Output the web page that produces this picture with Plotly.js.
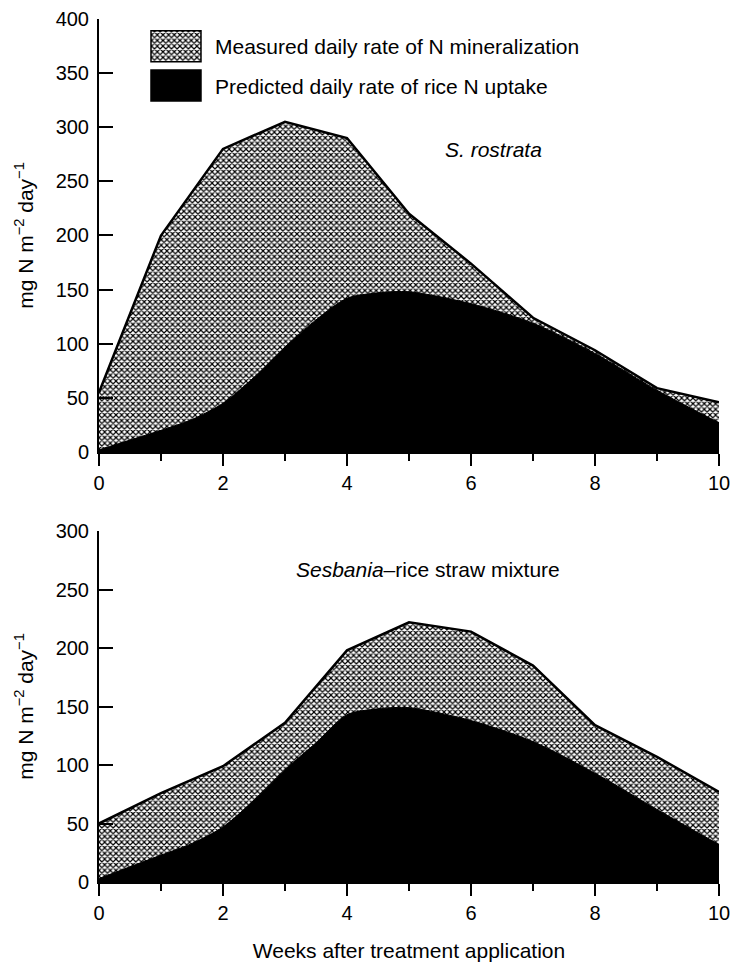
<!DOCTYPE html>
<html><head><meta charset="utf-8">
<script src="https://cdn.plot.ly/plotly-3.0.1.min.js"></script>
<style>html,body{margin:0;padding:0;background:#fff}</style>
</head><body>
<div id="chart" style="width:731px;height:965px"></div>
<script>
// Weeks after treatment application
const weeks = [0, 1, 2, 3, 4, 5, 6, 7, 8, 9, 10];
const predWeeks = [0, 0.5, 1, 1.5, 2, 2.5, 3, 3.5, 4, 4.5, 5, 6, 7, 8, 9, 10];
// Panel 1: S. rostrata
const rostrataMeasured = [55, 200, 280, 305, 290, 220, 174, 124, 94, 59, 46];
const rostrataPredicted = [2, 11, 20, 30, 45, 69, 97, 122, 142, 147, 148, 137, 119, 91, 57, 27];
// Panel 2: Sesbania-rice straw mixture
const mixtureMeasured = [50, 76, 99, 136, 198, 222, 214, 185, 134, 107, 77];
const mixturePredicted = [3, 13, 23, 33, 47, 70, 96, 119, 143, 148, 149, 138, 120, 93, 62, 32];

const measuredName = 'Measured daily rate of N mineralization';
const predictedName = 'Predicted daily rate of rice N uptake';
const yTitle = 'mg N m<sup>\u22122</sup> day<sup>\u22121</sup>';
const xTitle = 'Weeks after treatment application';
const panel1Label = '<i>S. rostrata</i>';
const panel2Label = '<i>Sesbania</i>\u2013rice straw mixture';

const FONT = 'Liberation Sans, Arial, Helvetica, sans-serif';
const pattern = {shape: 'x', size: 4, solidity: 0.5, fgcolor: '#000', bgcolor: '#fff', fillmode: 'replace'};

const traces = [
  {x: weeks, y: rostrataMeasured, xaxis: 'x', yaxis: 'y', type: 'scatter', mode: 'lines',
   fill: 'tozeroy', fillpattern: pattern, fillcolor: '#fff', line: {color: '#000', width: 2.5},
   name: measuredName, legendgroup: 'm', showlegend: true, hoverinfo: 'skip'},
  {x: predWeeks, y: rostrataPredicted, xaxis: 'x', yaxis: 'y', type: 'scatter', mode: 'lines',
   fill: 'tozeroy', fillcolor: '#000', line: {color: '#000', width: 1, shape: 'spline', smoothing: 0.8},
   name: predictedName, legendgroup: 'p', showlegend: true, hoverinfo: 'skip'},
  {x: weeks, y: mixtureMeasured, xaxis: 'x2', yaxis: 'y2', type: 'scatter', mode: 'lines',
   fill: 'tozeroy', fillpattern: pattern, fillcolor: '#fff', line: {color: '#000', width: 2.5},
   name: measuredName, legendgroup: 'm', showlegend: false, hoverinfo: 'skip'},
  {x: predWeeks, y: mixturePredicted, xaxis: 'x2', yaxis: 'y2', type: 'scatter', mode: 'lines',
   fill: 'tozeroy', fillcolor: '#000', line: {color: '#000', width: 1, shape: 'spline', smoothing: 0.8},
   name: predictedName, legendgroup: 'p', showlegend: false, hoverinfo: 'skip'}
];

function xAxis(extra) {
  return Object.assign({
    range: [0, 10], dtick: 2, tick0: 0, ticks: 'outside', ticklen: 12, tickwidth: 2, tickcolor: '#000',
    minor: {dtick: 1, tick0: 0, ticks: 'outside', ticklen: 7, tickwidth: 2, tickcolor: '#000'},
    showline: true, linecolor: '#000', linewidth: 2, showgrid: false, zeroline: false,
    tickfont: {family: FONT, size: 20, color: '#000'}, fixedrange: true
  }, extra);
}
function yAxis(extra) {
  return Object.assign({
    dtick: 50, tick0: 0, ticks: 'inside', ticklen: 14, tickwidth: 2, tickcolor: '#000',
    showline: true, linecolor: '#000', linewidth: 2, showgrid: false, zeroline: false,
    tickfont: {family: FONT, size: 20, color: '#000'}, ticklabelstandoff: 4,
    title: {text: yTitle, font: {family: FONT, size: 21, color: '#000'}, standoff: 16}, fixedrange: true
  }, extra);
}

const layout = {
  width: 731, height: 965,
  margin: {l: 99, r: 12, t: 19, b: 83},
  paper_bgcolor: '#fff', plot_bgcolor: '#fff',
  font: {family: FONT, size: 21, color: '#000'},
  xaxis: xAxis({anchor: 'y', domain: [0, 1]}),
  yaxis: yAxis({anchor: 'x', domain: [0.4983, 1], range: [0, 400]}),
  xaxis2: xAxis({anchor: 'y2', domain: [0, 1],
    title: {text: xTitle, font: {family: FONT, size: 21, color: '#000'}, standoff: 20}}),
  yaxis2: yAxis({anchor: 'x2', domain: [0, 0.4067], range: [0, 300]}),
  showlegend: true,
  legend: {
    xref: 'paper', yref: 'paper', x: 0.0758, y: 0.9919,
    xanchor: 'left', yanchor: 'top', bgcolor: 'rgba(0,0,0,0)', borderwidth: 0,
    font: {family: FONT, size: 21, color: '#000'},
    itemwidth: 59, traceorder: 'grouped', tracegroupgap: 9, itemclick: false, itemdoubleclick: false
  },
  annotations: [
    {text: panel1Label, xref: 'x', yref: 'y', x: 6.37, y: 279, showarrow: false,
     font: {family: FONT, size: 21, color: '#000'}},
    {text: panel2Label, xref: 'x2', yref: 'y2', x: 5.3, y: 267, showarrow: false,
     font: {family: FONT, size: 21, color: '#000'}}
  ]
};

Plotly.newPlot('chart', traces, layout, {displayModeBar: false, staticPlot: true}).then(function (gd) {
  const box = 'M5,-15.5h50v31h-50z';
  gd.querySelectorAll('.legend .traces').forEach(function (t) {
    const f = t.querySelector('.legendfill path');
    if (f) f.setAttribute('d', box);
    const l = t.querySelector('.legendlines path');
    if (l) { l.setAttribute('d', box); l.style.fill = 'none'; l.style.strokeWidth = '1.5px'; }
  });
});
</script>
</body></html>
